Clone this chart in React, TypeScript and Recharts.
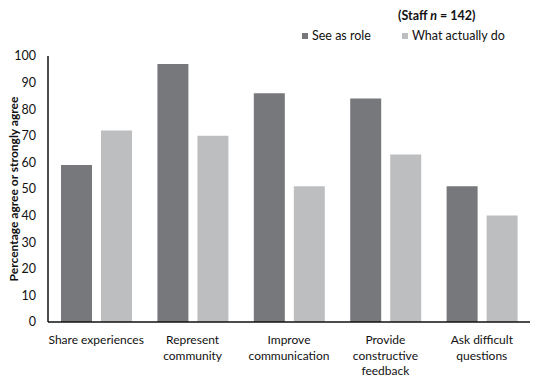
import { Bar, BarChart, Legend, XAxis, YAxis, Label } from "recharts";

const categories = [
  "Share experiences",
  "Represent\ncommunity",
  "Improve\ncommunication",
  "Provide\nconstructive\nfeedback",
  "Ask difficult\nquestions",
];
const seeAsRole = [59, 97, 86, 84, 51];
const actuallyDo = [72, 70, 51, 63, 40];
const yTicks = [0, 10, 20, 30, 40, 50, 60, 70, 80, 90, 100];

const data = categories.map((name, i) => ({
  name,
  role: seeAsRole[i],
  actual: actuallyDo[i],
}));

const FONT = "Lato, 'Open Sans', sans-serif";
const DARK = "#77787b";
const LIGHT = "#bdbec0";

function CategoryTick({ x, y, payload }: any) {
  const lines = String(payload.value).split("\n");
  return (
    <text x={x} y={y} textAnchor="middle" fontFamily={FONT} fontSize={12} fill="#111">
      {lines.map((line, i) => (
        <tspan key={i} x={x} dy={i === 0 ? 14 : 15.5}>
          {line}
        </tspan>
      ))}
    </text>
  );
}

function LegendBox() {
  return (
    <div style={{ fontFamily: FONT, fontSize: 12.5, color: "#111", position: "relative", width: 220, height: 40, whiteSpace: "nowrap" }}>
      <div style={{ position: "absolute", left: 96, top: 0, fontWeight: 700 }}>
        (Staff <i>n</i> = 142)
      </div>
      <div style={{ position: "absolute", left: 0, top: 20, display: "flex", alignItems: "center" }}>
        <span style={{ width: 6, height: 6, background: DARK, display: "inline-block", marginRight: 4 }} />
        <span>See as role</span>
        <span style={{ width: 6, height: 6, background: LIGHT, display: "inline-block", margin: "0 4px 0 31px" }} />
        <span>What actually do</span>
      </div>
    </div>
  );
}

export default function App() {
  return (
    <div style={{ position: "absolute", left: 0, top: 0, width: 547, height: 377, background: "#fff" }}>
      <BarChart
        width={547}
        height={377}
        data={data}
        margin={{ top: 16, right: 17, bottom: 0, left: 0 }}
        barCategoryGap="13.5%"
        barGap={9}
      >
        <XAxis
          dataKey="name"
          height={55}
          tick={<CategoryTick />}
          tickLine={false}
          axisLine={{ stroke: "#111", strokeWidth: 1.5 }}
          interval={0}
        />
        <YAxis
          width={48}
          domain={[0, 100]}
          ticks={yTicks}
          tickLine={false}
          axisLine={{ stroke: "#111", strokeWidth: 1.5 }}
          tick={{ fontFamily: FONT, fontSize: 12.5, fill: "#111" }}
          tickMargin={6}
        >
          <Label
            value="Percentage agree or strongly agree"
            angle={-90}
            position="center"
            dx={-10}
            style={{ fontFamily: FONT, fontSize: 12, fontWeight: 700, fill: "#111", textAnchor: "middle" }}
          />
        </YAxis>
        <Legend
          verticalAlign="top"
          wrapperStyle={{ position: "absolute", left: 302, top: 8, width: 220 }}
          content={() => <LegendBox />}
        />
        <Bar dataKey="role" name="See as role" fill={DARK} isAnimationActive={false} />
        <Bar dataKey="actual" name="What actually do" fill={LIGHT} isAnimationActive={false} />
      </BarChart>
    </div>
  );
}
